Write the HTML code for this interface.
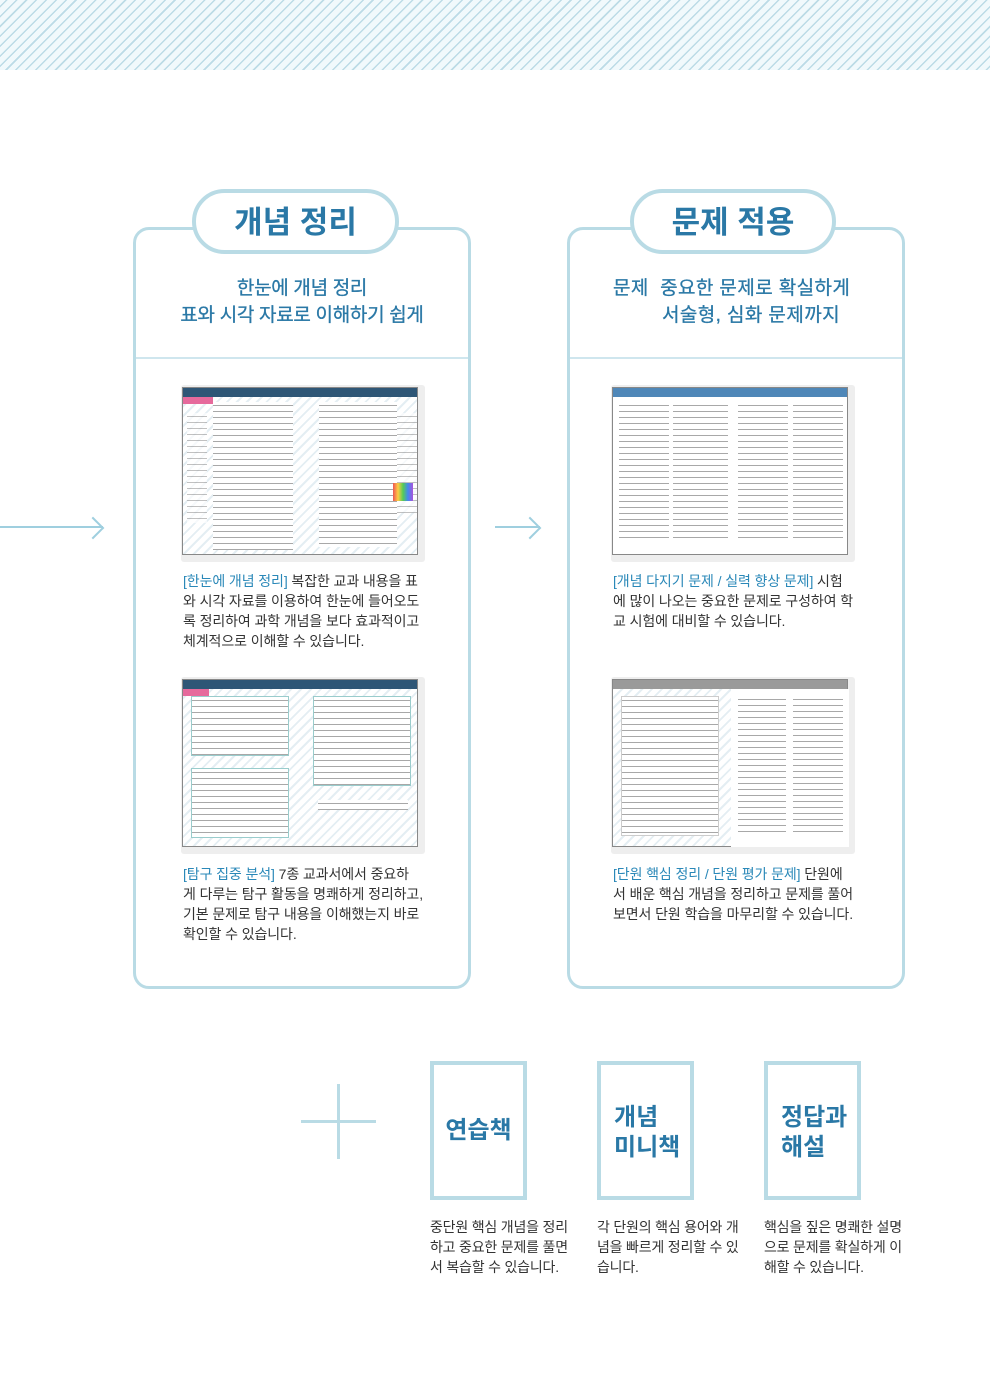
<!DOCTYPE html>
<html><head><meta charset="utf-8">
<style>
*{margin:0;padding:0;box-sizing:border-box}
body{width:990px;height:1400px;background:#fff;position:relative;overflow:hidden;font-family:"Liberation Sans","Noto Sans CJK KR",sans-serif}
.top{position:absolute;left:0;top:0;width:990px;height:70px;background:repeating-linear-gradient(135deg,#f1f9fc 0 4px,#bcdbe6 4px 5.5px,#f1f9fc 5.5px 7px)}
.a{position:absolute}
.box{position:absolute;border:3px solid #b9dbe5;border-radius:16px;background:#fff}
.pill{position:absolute;border:4px solid #b9dbe5;border-radius:34px;background:#fff;color:#2a78a6;font-weight:bold;font-size:31px;text-align:center;line-height:60px}
.sub{position:absolute;color:#2a78a6;font-size:19px;line-height:27px;letter-spacing:-0.3px;-webkit-text-stroke:0.3px #2a78a6;white-space:nowrap}
.div{position:absolute;height:2px;background:#cfe6ee}
.cap{position:absolute;font-size:14px;line-height:20px;color:#333;white-space:nowrap;letter-spacing:-0.1px}
.cap b{color:#2a88b8;font-weight:normal}
.th{position:absolute;width:244px;height:177px;background:#eee;border-radius:3px}
.pg{position:absolute;left:1px;top:2px;width:236px;height:168px;border:1px solid #888;background:repeating-linear-gradient(135deg,#fff 0 5px,#e4eef3 5px 7px)}
.hd{position:absolute;left:0;top:0;width:100%;height:9px}
.pn{position:absolute;background:#fff;background-image:repeating-linear-gradient(180deg,#fff 0 3px,#a8a8a8 3px 4px,#fff 4px 6px)}
.arr{position:absolute;height:2px;background:#9fcfdf}
.arr:after{content:"";position:absolute;width:14px;height:14px;border-right:2px solid #9fcfdf;border-top:2px solid #9fcfdf;transform:rotate(45deg);right:2px;top:-6px}
.sb{position:absolute;width:97px;height:139px;border:4px solid #b9dbe5;color:#2a78a6;font-weight:bold;font-size:24px;line-height:30px}
.bc{position:absolute;font-size:14px;line-height:20px;color:#333;width:146px;letter-spacing:-0.2px}
</style></head><body>
<div class="top"></div>

<div class="arr" style="left:0;top:526px;width:103px"></div>
<div class="arr" style="left:495px;top:526px;width:45px"></div>

<div class="box" style="left:133px;top:227px;width:338px;height:762px"></div>
<div class="div" style="left:136px;top:357px;width:332px"></div>
<div class="pill" style="left:192px;top:189px;width:207px;height:65px">개념 정리</div>
<div class="sub" style="left:136px;top:275px;width:332px;text-align:center">한눈에 개념 정리<br>표와 시각 자료로 이해하기 쉽게</div>

<div class="box" style="left:567px;top:227px;width:338px;height:762px"></div>
<div class="div" style="left:570px;top:357px;width:332px"></div>
<div class="pill" style="left:630px;top:189px;width:206px;height:65px">문제 적용</div>
<div class="sub" style="left:613px;top:275px;letter-spacing:0.4px">문제&nbsp;&nbsp;중요한 문제로 확실하게</div>
<div class="sub" style="left:662px;top:302px;letter-spacing:0.4px">서술형, 심화 문제까지</div>

<!-- thumbnails -->
<div class="th" style="left:181px;top:385px"><div class="pg"><div class="hd" style="background:#2e5676"></div><div class="a" style="left:0;top:9px;width:30px;height:7px;background:#e66a9c"></div>
<div class="pn" style="left:30px;top:14px;width:80px;height:148px"></div><div class="pn" style="left:136px;top:14px;width:78px;height:145px"></div>
<div class="pn" style="left:4px;top:25px;width:20px;height:110px;opacity:.7"></div><div class="pn" style="left:214px;top:25px;width:20px;height:100px;opacity:.7"></div>
<div class="a" style="left:210px;top:95px;width:20px;height:18px;background:linear-gradient(90deg,#e55,#fc4,#5c5,#48e,#a5d)"></div></div></div>

<div class="th" style="left:181px;top:677px"><div class="pg"><div class="hd" style="background:#2e5676"></div><div class="a" style="left:0;top:9px;width:26px;height:7px;background:#e66a9c"></div>
<div class="pn" style="left:8px;top:16px;width:98px;height:60px;border:1px solid #9cc"></div><div class="pn" style="left:8px;top:88px;width:98px;height:70px;border:1px solid #9cc"></div>
<div class="pn" style="left:130px;top:16px;width:98px;height:90px;border:1px solid #9cc"></div><div class="pn" style="left:135px;top:120px;width:90px;height:10px"></div></div></div>

<div class="th" style="left:611px;top:385px"><div class="pg" style="background:#fff"><div class="hd" style="background:#4f87b8"></div>
<div class="pn" style="left:6px;top:14px;width:50px;height:140px"></div><div class="pn" style="left:60px;top:14px;width:55px;height:140px"></div>
<div class="pn" style="left:125px;top:14px;width:50px;height:140px"></div><div class="pn" style="left:180px;top:14px;width:50px;height:140px"></div></div></div>

<div class="th" style="left:611px;top:677px"><div class="pg"><div class="hd" style="background:#9a9a9a"></div>
<div class="pn" style="left:8px;top:16px;width:98px;height:140px;border:1px solid #ccc"></div>
<div class="a" style="left:118px;top:9px;width:118px;height:158px;background:#fff"></div>
<div class="pn" style="left:125px;top:16px;width:48px;height:140px"></div><div class="pn" style="left:180px;top:16px;width:50px;height:140px"></div></div></div>

<div class="cap" style="left:183px;top:571px"><b>[한눈에 개념 정리]</b> 복잡한 교과 내용을 표<br>와 시각 자료를 이용하여 한눈에 들어오도<br>록 정리하여 과학 개념을 보다 효과적이고<br>체계적으로 이해할 수 있습니다.</div>
<div class="cap" style="left:183px;top:864px"><b>[탐구 집중 분석]</b> 7종 교과서에서 중요하<br>게 다루는 탐구 활동을 명쾌하게 정리하고,<br>기본 문제로 탐구 내용을 이해했는지 바로<br>확인할 수 있습니다.</div>
<div class="cap" style="left:613px;top:571px"><b>[개념 다지기 문제 / 실력 향상 문제]</b> 시험<br>에 많이 나오는 중요한 문제로 구성하여 학<br>교 시험에 대비할 수 있습니다.</div>
<div class="cap" style="left:613px;top:864px"><b>[단원 핵심 정리 / 단원 평가 문제]</b> 단원에<br>서 배운 핵심 개념을 정리하고 문제를 풀어<br>보면서 단원 학습을 마무리할 수 있습니다.</div>

<!-- plus -->
<div class="a" style="left:301px;top:1120px;width:75px;height:3px;background:#b9dbe5"></div>
<div class="a" style="left:337px;top:1084px;width:3px;height:75px;background:#b9dbe5"></div>

<div class="sb" style="left:430px;top:1061px;text-align:center;line-height:131px">연습책</div>
<div class="sb" style="left:597px;top:1061px;padding:38px 0 0 13px">개념<br>미니책</div>
<div class="sb" style="left:764px;top:1061px;padding:38px 0 0 13px">정답과<br>해설</div>
<div class="bc" style="left:430px;top:1217px">중단원 핵심 개념을 정리하고 중요한 문제를 풀면서 복습할 수 있습니다.</div>
<div class="bc" style="left:597px;top:1217px">각 단원의 핵심 용어와 개념을 빠르게 정리할 수 있습니다.</div>
<div class="bc" style="left:764px;top:1217px">핵심을 짚은 명쾌한 설명으로 문제를 확실하게 이해할 수 있습니다.</div>
</body></html>
